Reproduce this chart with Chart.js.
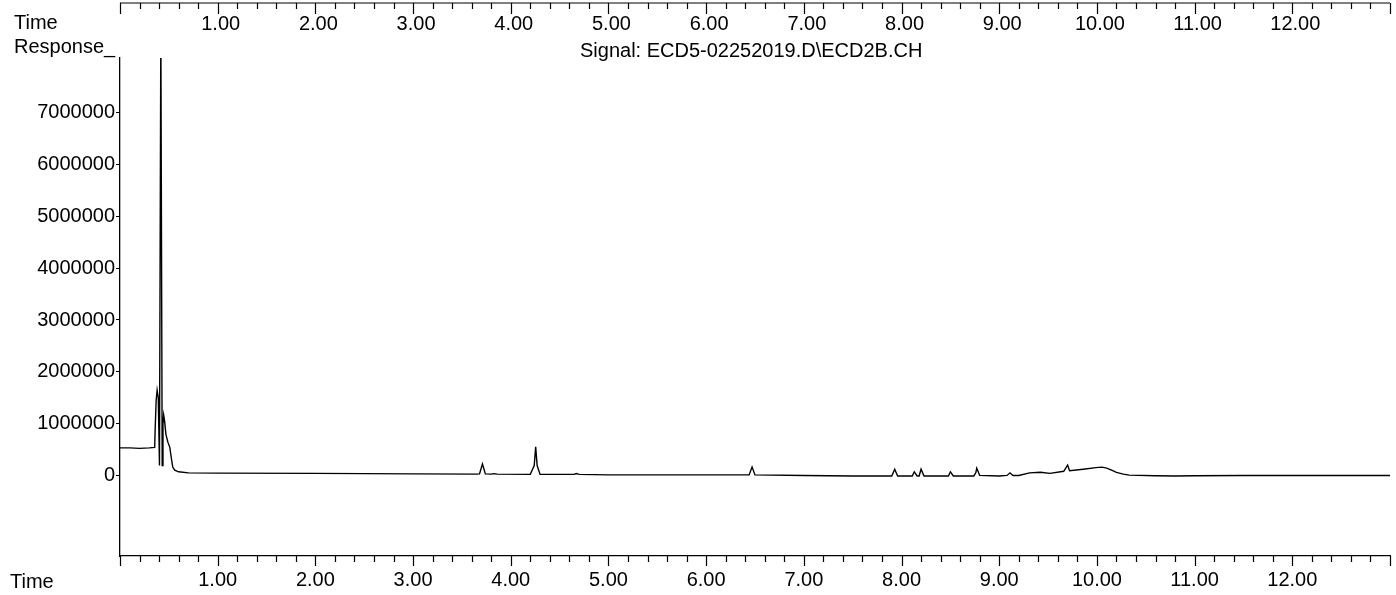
<!DOCTYPE html>
<html>
<head>
<meta charset="utf-8">
<title>ECD2B chromatogram</title>
<script src="https://cdn.jsdelivr.net/npm/chart.js@4.4.1/dist/chart.umd.min.js"></script>
<style>
  html, body { margin: 0; padding: 0; background: #fff; }
  canvas { display: block; }
</style>
</head>
<body>
<canvas id="chrom" width="1396" height="595"></canvas>
<script>
// retention time (min) and detector response
const times = [
    0.00, 0.10, 0.20, 0.30, 0.355, 0.36, 0.37, 0.38, 0.392, 0.404,
    0.418, 0.432, 0.440, 0.447, 0.457, 0.47, 0.49, 0.51,
    0.525, 0.54, 0.56, 0.60, 0.70, 1.00, 2.00, 3.00, 3.65, 3.68,
    3.71, 3.74, 3.80, 3.83, 3.86, 4.20, 4.24, 4.255, 4.27, 4.30,
    4.65, 4.67, 4.70, 5.00, 6.00, 6.44, 6.47, 6.50, 7.00, 7.50,
    7.90, 7.93, 7.96, 8.11, 8.13, 8.16, 8.18, 8.20, 8.23, 8.48,
    8.50, 8.53, 8.74, 8.76, 8.77, 8.80, 9.00, 9.08, 9.11, 9.14,
    9.20, 9.31, 9.42, 9.52, 9.66, 9.70, 9.72, 9.86, 9.99, 10.05,
    10.10, 10.15, 10.20, 10.27, 10.33, 10.60, 10.80, 11.00, 11.50, 12.00,
    13.00
];
const response = [
    540000, 540000, 530000, 540000, 550000, 900000, 1450000, 1650000, 1500000, 200000,
    8600000, 200000, 1000000, 1170000, 1050000, 800000, 650000, 550000,
    350000, 170000, 110000, 80000, 60000, 55000, 50000, 40000, 35000, 40000,
    230000, 40000, 35000, 45000, 35000, 30000, 200000, 560000, 200000, 30000,
    30000, 45000, 30000, 20000, 20000, 20000, 170000, 20000, 10000, 0,
    0, 130000, 0, 0, 80000, 0, 0, 130000, 0, 0,
    80000, 0, 0, 60000, 150000, 10000, 0, 10000, 60000, 10000,
    10000, 60000, 70000, 50000, 90000, 210000, 100000, 130000, 160000, 170000,
    150000, 110000, 70000, 35000, 15000, 5000, 0, 5000, 10000, 10000,
    10000
];

const xMajor = [1, 2, 3, 4, 5, 6, 7, 8, 9, 10, 11, 12];
const yTicks = [0, 1000000, 2000000, 3000000, 4000000, 5000000, 6000000, 7000000];
const signalName = 'Signal: ECD5-02252019.D\\ECD2B.CH';

const FONT = '"Liberation Sans", Arial, sans-serif';

// rulers (top and bottom) and the header texts
const rulerPlugin = {
    id: 'ruler',
    afterDraw(chart) {
        const ctx = chart.ctx;
        const xs = chart.scales.x;
        const bottom = chart.chartArea.bottom;
        ctx.save();
        ctx.strokeStyle = '#000';
        ctx.fillStyle = '#000';
        ctx.lineWidth = 1.2;

        // top ruler line
        const topY = 3;
        ctx.beginPath();
        ctx.moveTo(xs.getPixelForValue(0), topY);
        ctx.lineTo(xs.getPixelForValue(13), topY);
        ctx.stroke();

        for (let i = 0; i <= 65; i++) {
            const v = i * 0.2;
            const px = Math.round(xs.getPixelForValue(v)) + 0.5;
            const major = i % 5 === 0;
            ctx.beginPath();
            ctx.moveTo(px, topY);
            ctx.lineTo(px, topY + (major ? 11 : 6));
            ctx.moveTo(px, bottom);
            ctx.lineTo(px, bottom + (major ? 10 : 6));
            ctx.stroke();
        }

        ctx.font = '20px ' + FONT;
        ctx.textBaseline = 'alphabetic';
        ctx.textAlign = 'center';
        xMajor.forEach(v => {
            ctx.fillText(v.toFixed(2), xs.getPixelForValue(v) + 3, 30);
        });

        ctx.textAlign = 'left';
        ctx.fillText('Time', 14, 29);
        ctx.fillText('Response_', 14, 53);
        ctx.fillText('Time', 10, 588);
        ctx.fillText(signalName, 580, 57);
        ctx.restore();
    }
};

const points = times.map((t, i) => ({ x: t, y: response[i] }));

new Chart(document.getElementById('chrom'), {
    type: 'line',
    data: {
        datasets: [{
            data: points,
            borderColor: '#000',
            borderWidth: 1.4,
            pointRadius: 0,
            tension: 0,
            fill: false
        }]
    },
    options: {
        responsive: false,
        animation: false,
        devicePixelRatio: 1,
        layout: { padding: { top: 58, right: 6, left: 0, bottom: 0 } },
        plugins: {
            legend: { display: false },
            tooltip: { enabled: false },
            title: { display: false }
        },
        scales: {
            x: {
                type: 'linear',
                min: 0,
                max: 13,
                afterBuildTicks: s => { s.ticks = xMajor.map(v => ({ value: v })); },
                afterFit: s => { s.height = 39; },
                ticks: {
                    callback: v => v.toFixed(2),
                    color: '#000',
                    font: { family: FONT, size: 20 },
                    padding: 12,
                    maxRotation: 0,
                    autoSkip: false
                },
                grid: { drawOnChartArea: false, drawTicks: false },
                border: { display: true, color: '#000', width: 1.3 }
            },
            y: {
                min: -1540000,
                max: 8040000,
                afterBuildTicks: s => { s.ticks = yTicks.map(v => ({ value: v })); },
                afterFit: s => { s.width = 120; },
                ticks: {
                    callback: v => String(v),
                    color: '#000',
                    font: { family: FONT, size: 20 },
                    padding: 1
                },
                grid: { drawOnChartArea: false, tickLength: 4, tickColor: '#000' },
                border: { display: true, color: '#000', width: 1.3 }
            }
        }
    },
    plugins: [rulerPlugin]
});
</script>
</body>
</html>
